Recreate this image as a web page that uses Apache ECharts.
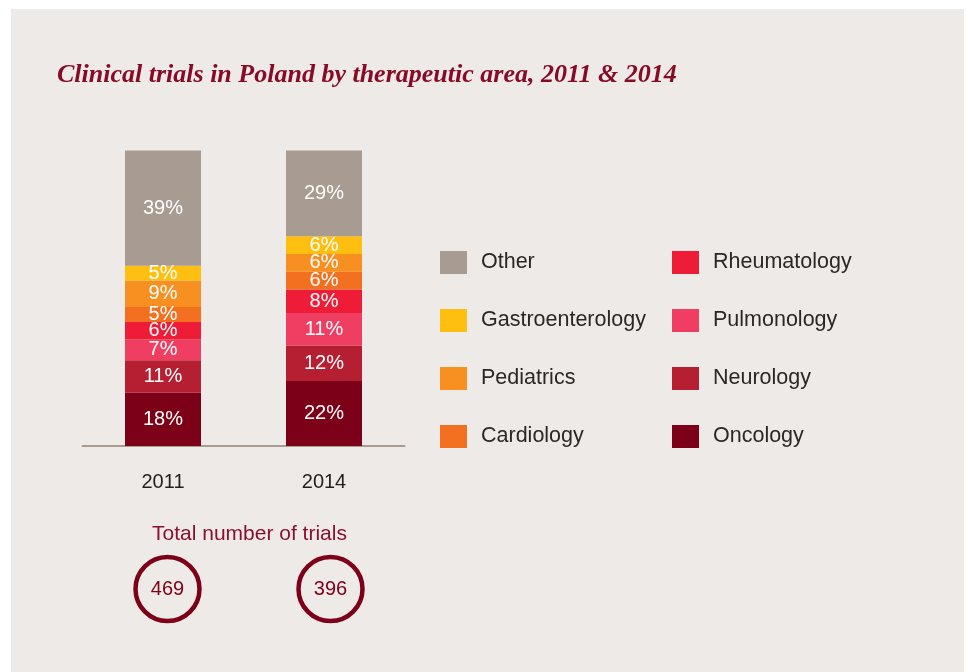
<!DOCTYPE html>
<html>
<head>
<meta charset="utf-8">
<script src="https://cdn.jsdelivr.net/npm/echarts@6/dist/echarts.min.js"></script>
<style>
html,body{margin:0;padding:0;background:#ffffff;width:968px;height:672px;overflow:hidden;}
#chart{position:absolute;left:11px;top:9px;width:953px;height:663px;}
</style>
</head>
<body>
<div id="chart"></div>
<script>
const years = ['2011', '2014'];
const oncology = [18, 22];
const neurology = [11, 12];
const pulmonology = [7, 11];
const rheumatology = [6, 8];
const cardiology = [5, 6];
const pediatrics = [9, 6];
const gastroenterology = [5, 6];
const other = [39, 29];
const totals = [469, 396];

const seriesDefs = [
  ['Oncology', oncology, '#7d0019'],
  ['Neurology', neurology, '#b61f32'],
  ['Pulmonology', pulmonology, '#f03e62'],
  ['Rheumatology', rheumatology, '#ee1c36'],
  ['Cardiology', cardiology, '#f37021'],
  ['Pediatrics', pediatrics, '#f79020'],
  ['Gastroenterology', gastroenterology, '#ffbf10'],
  ['Other', other, '#a89b91']
];

const SANS = '"Liberation Sans", Arial, Helvetica, sans-serif';

const chart = echarts.init(document.getElementById('chart'), null, {renderer: 'canvas'});

const barSeries = seriesDefs.map(([name, data, color]) => ({
  name: name,
  type: 'bar',
  stack: 'total',
  xAxisIndex: 0,
  yAxisIndex: 0,
  barWidth: 76,
  data: data,
  itemStyle: {color: color},
  label: {
    show: true,
    position: 'inside',
    formatter: '{c}%',
    color: '#ffffff',
    fontFamily: SANS,
    fontSize: 20
  },
  emphasis: {disabled: true}
}));

const legendCommon = {
  orient: 'vertical',
  padding: 0,
  itemWidth: 27,
  itemHeight: 23,
  itemGap: 35,
  icon: 'rect',
  selectedMode: false,
  textStyle: {
    color: '#2b2727',
    fontFamily: SANS,
    fontSize: 21.5,
    padding: [0, 0, 0, 9]
  }
};

chart.setOption({
  backgroundColor: '#eeeae7',
  animation: false,
  title: [
    {
      text: 'Clinical trials in Poland by therapeutic area, 2011 & 2014',
      left: 46,
      top: 53,
      padding: 0,
      textStyle: {
        color: '#870b26',
        fontFamily: '"Liberation Serif", "DejaVu Serif", Georgia, serif',
        fontStyle: 'italic',
        fontWeight: 'bold',
        fontSize: 26
      }
    },
    {
      text: 'Total number of trials',
      left: 233.5,
      top: 510,
      textAlign: 'center',
      textStyle: {
        color: '#8a1030',
        fontFamily: SANS,
        fontWeight: 'normal',
        fontSize: 21
      }
    }
  ],
  legend: [
    Object.assign({left: 429, top: 242, data: ['Other', 'Gastroenterology', 'Pediatrics', 'Cardiology']}, legendCommon),
    Object.assign({left: 661, top: 242, data: ['Rheumatology', 'Pulmonology', 'Neurology', 'Oncology']}, legendCommon)
  ],
  grid: [
    {left: 71.5, top: 141.5, width: 322, height: 295.5, containLabel: false},
    {left: 75, top: 540, width: 326, height: 80, containLabel: false}
  ],
  xAxis: [
    {
      type: 'category',
      gridIndex: 0,
      data: years,
      axisLine: {show: true, lineStyle: {color: '#a89b91', width: 2}},
      axisTick: {show: false},
      axisLabel: {color: '#231f20', fontFamily: SANS, fontSize: 20, margin: 26}
    },
    {
      type: 'category',
      gridIndex: 1,
      data: years,
      show: false
    }
  ],
  yAxis: [
    {type: 'value', gridIndex: 0, min: 0, max: 100, show: false, splitLine: {show: false}},
    {type: 'value', gridIndex: 1, min: 0, max: 2, show: false, splitLine: {show: false}}
  ],
  series: barSeries.concat([{
    name: 'Total',
    type: 'scatter',
    xAxisIndex: 1,
    yAxisIndex: 1,
    symbol: 'circle',
    symbolSize: 64,
    data: totals.map((t, i) => ({value: [years[i], 1], total: t})),
    itemStyle: {color: 'rgba(0,0,0,0)', borderColor: '#7d0019', borderWidth: 4.5, opacity: 1},
    label: {
      show: true,
      position: 'inside',
      formatter: p => String(p.data.total),
      color: '#7d0019',
      fontFamily: SANS,
      fontSize: 20
    },
    emphasis: {disabled: true}
  }])
});
</script>
</body>
</html>
